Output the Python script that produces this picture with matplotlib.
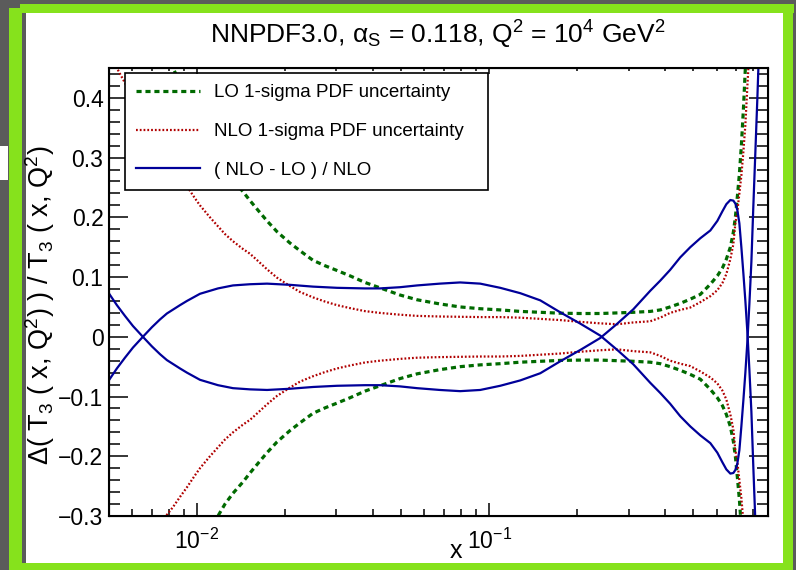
import matplotlib
matplotlib.use('Agg')
import matplotlib.pyplot as plt
from matplotlib.patches import Rectangle
from matplotlib.ticker import FixedLocator, LogLocator, MultipleLocator, NullFormatter, FixedFormatter

plt.rcParams['font.family'] = ['Liberation Sans', 'DejaVu Sans']
plt.rcParams['mathtext.fontset'] = 'custom'
plt.rcParams['mathtext.rm'] = 'Liberation Sans'
plt.rcParams['mathtext.it'] = 'Liberation Sans:italic'

# LO 1-sigma band (drawn as +/-)
lo_x = [0.00747, 0.00789, 0.00828, 0.00875, 0.00924, 0.00984, 0.01024, 0.01108, 0.0118, 0.01247,
        0.01328, 0.01437, 0.01519, 0.01617, 0.01737, 0.01879, 0.02081, 0.02253, 0.02496, 0.02743,
        0.03015, 0.03342, 0.03757, 0.04228, 0.04949, 0.05668, 0.0678, 0.07956, 0.09319, 0.1091,
        0.1278, 0.1496, 0.1751, 0.2051, 0.24, 0.2744, 0.3113, 0.3558, 0.385, 0.4162,
        0.4508, 0.4878, 0.528, 0.5713, 0.6038, 0.6282, 0.6482, 0.6689, 0.6849, 0.6959,
        0.707, 0.7182, 0.7296, 0.7413, 0.753, 0.765]
lo_v = [0.50, 0.475, 0.45, 0.425, 0.40, 0.373, 0.357, 0.328, 0.30, 0.28,
        0.262, 0.243, 0.228, 0.212, 0.194, 0.176, 0.157, 0.144, 0.128, 0.119,
        0.111, 0.102, 0.091, 0.082, 0.070, 0.062, 0.055, 0.050, 0.047, 0.045,
        0.0425, 0.041, 0.0395, 0.039, 0.039, 0.040, 0.041, 0.0425, 0.045, 0.050,
        0.056, 0.063, 0.071, 0.088, 0.102, 0.115, 0.13, 0.15, 0.175, 0.2,
        0.235, 0.272, 0.32, 0.38, 0.45, 0.53]

# NLO 1-sigma band (drawn as +/-)
nlo_x = [0.005, 0.00532, 0.00567, 0.00604, 0.00653, 0.00701, 0.00747, 0.00789, 0.00828, 0.00875,
         0.00924, 0.00984, 0.01024, 0.01108, 0.0118, 0.01247, 0.01328, 0.01437, 0.01519, 0.01617,
         0.01737, 0.01879, 0.02081, 0.02253, 0.02496, 0.02743, 0.03015, 0.03342, 0.03757, 0.04228,
         0.04949, 0.05668, 0.0678, 0.07956, 0.09319, 0.1091, 0.1278, 0.1496, 0.1751, 0.2051,
         0.24, 0.2744, 0.3113, 0.3558, 0.385, 0.4162, 0.4508, 0.4878, 0.528, 0.5713,
         0.6038, 0.6282, 0.6482, 0.6689, 0.6849, 0.6959, 0.707, 0.7182, 0.7296, 0.7413,
         0.753, 0.765, 0.7772, 0.7895]
nlo_v = [0.475, 0.45, 0.425, 0.398, 0.365, 0.338, 0.318, 0.298, 0.285, 0.268,
         0.252, 0.232, 0.220, 0.200, 0.185, 0.172, 0.160, 0.147, 0.139, 0.127,
         0.113, 0.099, 0.085, 0.075, 0.066, 0.059, 0.053, 0.048, 0.043, 0.040,
         0.037, 0.035, 0.034, 0.0335, 0.033, 0.033, 0.032, 0.030, 0.028, 0.025,
         0.0225, 0.021, 0.024, 0.026, 0.032, 0.040, 0.045, 0.049, 0.058, 0.068,
         0.078, 0.090, 0.105, 0.13, 0.155, 0.19, 0.21, 0.24, 0.27, 0.31,
         0.355, 0.42, 0.48, 0.55]

# (NLO - LO) / NLO, drawn with both signs
diff_x = [0.005, 0.00532, 0.00567, 0.00604, 0.00653, 0.00701, 0.00747, 0.00789, 0.00875, 0.00924,
          0.01024, 0.0118, 0.01328, 0.01519, 0.01737, 0.02081, 0.02496, 0.03015, 0.03757, 0.04228,
          0.04949, 0.05668, 0.0678, 0.07956, 0.09319, 0.1091, 0.1278, 0.1496, 0.1751, 0.2051,
          0.24, 0.2744, 0.3113, 0.3558, 0.385, 0.4162, 0.4508, 0.4878, 0.528, 0.5713,
          0.6038, 0.6282, 0.6482, 0.6689, 0.6849, 0.6959, 0.707, 0.7182, 0.7296, 0.7413,
          0.753, 0.765, 0.7772, 0.7895, 0.802, 0.8148, 0.8277, 0.841]
diff_v = [0.0725, 0.053, 0.035, 0.018, 0.0, -0.016, -0.029, -0.039, -0.053, -0.060,
          -0.072, -0.081, -0.086, -0.088, -0.089, -0.087, -0.084, -0.082, -0.081, -0.081,
          -0.083, -0.086, -0.089, -0.091, -0.089, -0.082, -0.073, -0.061, -0.041, -0.022,
          -0.002, 0.022, 0.046, 0.077, 0.094, 0.112, 0.133, 0.150, 0.165, 0.178,
          0.194, 0.210, 0.222, 0.229, 0.228, 0.223, 0.212, 0.190, 0.150, 0.106,
          0.060, 0.008, -0.055, -0.125, -0.22, -0.31, -0.40, -0.50]

ytick_vals = [-0.3, -0.2, -0.1, 0.0, 0.1, 0.2, 0.3, 0.4]
ytick_labels = ['\u22120.3', '\u22120.2', '\u22120.1', '0', '0.1', '0.2', '0.3', '0.4']
xtick_vals = [0.01, 0.1]
xtick_labels = [r'$\mathregular{10^{-2}}$', r'$\mathregular{10^{-1}}$']

W, H = 796, 570
fig = plt.figure(figsize=(W / 100, H / 100), dpi=100, facecolor='#5b5b5b')

def box(x0, y0, x1, y1, color):
    # pixel box (top-left origin) -> figure patch
    fig.patches.append(Rectangle((x0 / W, 1 - y1 / H), (x1 - x0) / W, (y1 - y0) / H,
                                 transform=fig.transFigure, color=color, zorder=-5, lw=0))

green = '#86e21c'
box(26, 12, 783, 564, 'white')
box(20, 4, 794, 13, green)
box(783, 4, 793, 570, green)
box(20, 563, 793, 570, green)
box(9, 8, 22, 570, green)
box(0, 146, 8, 180, 'white')

ax = fig.add_axes([109 / W, 1 - 516 / H, 659 / W, 448 / H])
ax.set_xscale('log')

c_lo, c_nlo, c_diff = '#006a00', '#b00000', '#000099'
l1, = ax.plot(lo_x, lo_v, color=c_lo, lw=2.3, dashes=(1.6, 1.2), label='LO 1-sigma PDF uncertainty')
ax.plot(lo_x, [-v for v in lo_v], color=c_lo, lw=2.3, dashes=(1.6, 1.2))
l2, = ax.plot(nlo_x, nlo_v, color=c_nlo, lw=1.6, dashes=(0.8, 0.9), label='NLO 1-sigma PDF uncertainty')
ax.plot(nlo_x, [-v for v in nlo_v], color=c_nlo, lw=1.6, dashes=(0.8, 0.9))
l3, = ax.plot(diff_x, diff_v, color=c_diff, lw=1.6, label='( NLO - LO ) / NLO')
ax.plot(diff_x, [-v for v in diff_v], color=c_diff, lw=1.6)

ax.set_xlim(0.005, 0.9)
ax.set_ylim(-0.3, 0.45)

ax.xaxis.set_major_locator(FixedLocator(xtick_vals))
ax.xaxis.set_major_formatter(FixedFormatter(xtick_labels))
ax.xaxis.set_minor_locator(LogLocator(base=10, subs=range(2, 10)))
ax.xaxis.set_minor_formatter(NullFormatter())
ax.yaxis.set_major_locator(FixedLocator(ytick_vals))
ax.yaxis.set_major_formatter(FixedFormatter(ytick_labels))
ax.yaxis.set_minor_locator(MultipleLocator(0.02))

ax.tick_params(which='both', direction='in', left=True, right=True, top=False, bottom=True,
               width=1.1, labelsize=16.5)
ax.tick_params(axis='y', which='major', length=14, pad=4)
ax.tick_params(axis='y', which='minor', length=8)
ax.tick_params(axis='x', which='major', length=9.5, pad=9)
ax.tick_params(axis='x', which='minor', length=5)
for s in ax.spines.values():
    s.set_linewidth(1.5)

top = ax.twiny()
top.set_xscale('log')
top.set_xlim(ax.get_xlim())
top.xaxis.set_major_locator(FixedLocator(xtick_vals))
top.xaxis.set_minor_locator(LogLocator(base=10, subs=range(2, 10)))
top.tick_params(which='both', direction='in', labeltop=False, width=1.1)
top.tick_params(which='major', length=4)
top.tick_params(which='minor', length=2.5)

leg = ax.legend(handles=[l1, l2, l3], loc='upper left',
                bbox_to_anchor=(0.0243, 0.7277, 0.5508, 0.2611), mode='expand',
                fontsize=13.5, frameon=True, fancybox=False, edgecolor='black', framealpha=1,
                borderaxespad=0, handlelength=3.4, handletextpad=0.75, labelspacing=1.15,
                borderpad=0.6)
leg.get_frame().set_linewidth(1.2)

fig.text(438 / W, 1 - 44 / H,
         'NNPDF3.0, \u03b1$_\\mathregular{S}$ = 0.118, Q$^\\mathregular{2}$ = 10$^\\mathregular{4}$ GeV$^\\mathregular{2}$',
         ha='center', va='baseline', fontsize=19)
fig.text(40 / W, 1 - 305 / H,
         '\u0394( T$_\\mathregular{3}$ ( x, Q$^\\mathregular{2}$) ) / T$_\\mathregular{3}$ ( x, Q$^\\mathregular{2}$)',
         rotation=90, ha='center', va='center', fontsize=19.5)
fig.text(456 / W, 1 - 558 / H, 'x', ha='center', va='baseline', fontsize=18)

fig.savefig('out.png', dpi=100, facecolor=fig.get_facecolor())
